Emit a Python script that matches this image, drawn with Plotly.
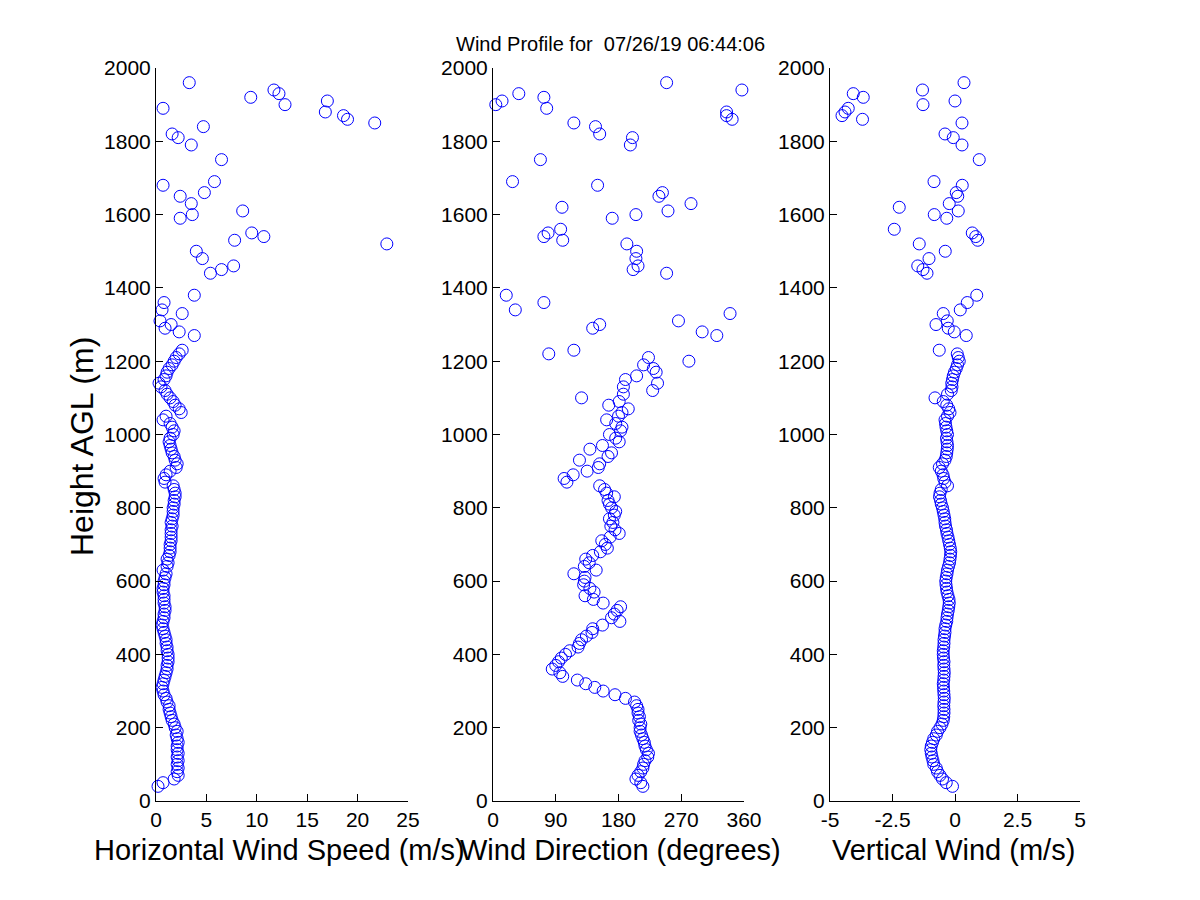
import plotly.graph_objects as go

# ---------------- data ----------------
heights_low = [
    40, 50, 60, 70, 80, 90, 100, 110, 120, 130,
    140, 150, 160, 170, 180, 190, 200, 210, 220, 230,
    240, 250, 260, 270, 280, 290, 300, 310, 320, 330,
    340, 350, 360, 370, 380, 390, 400, 410, 420, 430,
    440, 450, 460, 470, 480, 490, 500, 510, 520, 530,
    540, 550, 560, 570, 580, 590, 600, 610, 620, 630,
    640, 650, 660, 670, 680, 690, 700, 710, 720, 730,
    740, 750, 760, 770, 780, 790, 800, 810, 820, 830,
    840, 850, 860, 870, 880, 890, 900, 910, 920, 930,
    940, 950, 960, 970, 980, 990, 1000, 1010, 1020, 1030,
    1040, 1050, 1060, 1070, 1080, 1090, 1100, 1110, 1120, 1130,
    1140, 1150, 1160, 1170, 1180, 1190, 1200, 1210, 1220, 1230,
]
speed_low = [
    0.2, 0.7, 1.8, 2.2, 2.1, 2.2, 2.1, 2.2, 2.1, 2.2,
    2.1, 2.1, 2.2, 2.1, 2.0, 2.1, 1.9, 1.8, 1.6, 1.5,
    1.4, 1.3, 1.3, 1.1, 1.0, 0.8, 0.7, 0.6, 0.7, 0.8,
    0.9, 1.0, 1.1, 1.1, 1.2, 1.2, 1.2, 1.1, 1.1, 1.0,
    1.0, 0.9, 0.8, 0.7, 0.6, 0.7, 0.8, 0.8, 0.9, 0.9,
    0.8, 0.8, 0.8, 0.7, 0.7, 0.8, 0.8, 0.9, 1.0, 0.7,
    1.1, 1.2, 1.1, 1.3, 1.4, 1.4, 1.4, 1.5, 1.5, 1.5,
    1.5, 1.6, 1.5, 1.6, 1.7, 1.7, 1.7, 1.8, 1.8, 1.9,
    1.9, 1.8, 1.7, 0.9, 0.8, 1.0, 1.4, 2.0, 2.1, 1.9,
    1.8, 1.6, 1.5, 1.4, 1.3, 1.4, 1.7, 1.8, 1.6, 1.4,
    0.7, 1.0, 2.5, 2.3, 1.9, 1.7, 1.4, 1.1, 0.9, 0.5,
    0.3, 0.8, 1.0, 1.1, 1.3, 1.6, 1.8, 2.0, 2.3, 2.6,
]
direction_low = [
    215, 212, 205, 208, 212, 215, 216, 218, 222, 223,
    220, 218, 217, 215, 213, 211, 211, 212, 209, 210,
    208, 208, 206, 203, 190, 175, 158, 146, 133, 121,
    100, 96, 85, 90, 94, 98, 104, 110, 122, 124,
    127, 134, 142, 143, 157, 182, 170, 174, 178, 183,
    158, 144, 132, 145, 139, 130, 131, 132, 116, 148,
    131, 138, 133, 143, 154, 164, 161, 156, 168, 181,
    175, 169, 172, 167, 174, 176, 170, 167, 165, 174,
    163, 160, 153, 106, 102, 115, 135, 151, 153, 124,
    165, 170, 139, 157, 181, 176, 167, 183, 185, 176,
    163, 180, 185, 194, 166, 181, 127, 187, 229, 187,
    236, 190, 206, 234, 230, 216, 281, 223, 80, 116,
]
vertical_low = [
    -0.1, -0.35, -0.5, -0.6, -0.7, -0.75, -0.85, -0.88, -0.92, -0.95,
    -0.97, -0.95, -0.9, -0.85, -0.75, -0.7, -0.6, -0.52, -0.47, -0.45,
    -0.44, -0.44, -0.45, -0.44, -0.43, -0.44, -0.45, -0.46, -0.47, -0.45,
    -0.44, -0.43, -0.44, -0.45, -0.44, -0.46, -0.47, -0.47, -0.45, -0.44,
    -0.44, -0.42, -0.4, -0.4, -0.37, -0.33, -0.32, -0.3, -0.27, -0.25,
    -0.23, -0.24, -0.28, -0.32, -0.34, -0.36, -0.37, -0.35, -0.32, -0.3,
    -0.26, -0.22, -0.2, -0.18, -0.17, -0.19, -0.22, -0.25, -0.28, -0.32,
    -0.34, -0.38, -0.4, -0.41, -0.44, -0.47, -0.5, -0.55, -0.58, -0.62,
    -0.6, -0.55, -0.3, -0.4, -0.45, -0.48, -0.55, -0.63, -0.5, -0.4,
    -0.35, -0.33, -0.31, -0.3, -0.32, -0.34, -0.3, -0.33, -0.36, -0.38,
    -0.4, -0.3, -0.2, -0.25, -0.33, -0.47, -0.8, -0.3, -0.15, -0.12,
    -0.13, -0.1, -0.07, -0.02, 0.05, 0.1, 0.17, 0.13, 0.09, -0.63,
]

heights_up = [1270, 1280, 1290, 1300, 1310, 1330, 1340, 1360, 1380, 1440,
              1450, 1460, 1480, 1500, 1520, 1530, 1540, 1550, 1560, 1590,
              1600, 1610, 1620, 1630, 1650, 1660, 1680, 1690, 1750, 1790,
              1810, 1820, 1840, 1850, 1860, 1870, 1880, 1890, 1900, 1910,
              1920, 1930, 1940, 1960]
speed_up = [3.8, 2.3, 0.9, 1.5, 0.4, 2.6, 0.6, 0.8, 3.8, 5.4,
            6.5, 7.7, 4.6, 4.0, 22.9, 7.8, 10.7, 9.5, None, 2.4,
            3.6, 8.6, None, 3.5, 2.4, 4.8, 0.7, 5.8, 6.5, 3.5,
            2.2, 1.6, 4.7, 21.7, 19.0, 18.6, 16.8, 0.7, 12.8, 17.0,
            9.4, 12.2, 11.7, 3.3]
direction_up = [321, 300, 143, 153, 266, 340, 32, 73, 19, 249,
                201, 208, 205, 206, 192, 100, 73, 79, 97, 171,
                205, 251, 99, 284, 238, 243, 150, 28, 68, 197,
                200, 153, 147, 116, 343, 335, 335, 77, 4, 13,
                73, 37, 357, 249]
vertical_up = [0.45, -0.03, -0.27, -0.76, -0.31, -0.47, 0.21, 0.49, 0.87, -1.12,
               -1.28, -1.49, -1.04, -0.39, -1.43, 0.91, 0.83, 0.69, -2.43, -0.33,
               -0.83, 0.13, -2.23, -0.23, 0.11, 0.05, 0.29, -0.84, 0.97, 0.28,
               -0.07, -0.4, None, 0.28, -3.7, -4.52, -4.4, -4.27, -1.28, 0.0,
               -3.67, -4.07, -1.3, 0.36]

heights = heights_low + heights_up
speed = speed_low + speed_up
direction = direction_low + direction_up
vertical = vertical_low + vertical_up

y_ticks = [0, 200, 400, 600, 800, 1000, 1200, 1400, 1600, 1800, 2000]
speed_ticks = [0, 5, 10, 15, 20, 25]
dir_ticks = [0, 90, 180, 270, 360]
vert_ticks = [-5, -2.5, 0, 2.5, 5]
vert_tick_text = ["-5", "-2.5", "0", "2.5", "5"]

title_text = "Wind Profile for \u00a007/26/19 06:44:06"
xlabels = ["Horizontal Wind Speed (m/s)", "Wind Direction (degrees)", "Vertical Wind (m/s)"]
ylabel = "Height AGL (m)"

# ---------------- figure ----------------
W, H = 1200, 900
FONT = "Liberation Sans, Arial, Helvetica, sans-serif"
BLUE = "rgb(0,0,255)"

panels_px = [(156, 408), (493, 744), (830, 1080)]
ydom = [99 / H, 832 / H]

fig = go.Figure()
series = [speed, direction, vertical]
for i, xs in enumerate(series):
    fig.add_trace(go.Scatter(
        x=xs, y=heights, mode="markers",
        xaxis="x" if i == 0 else f"x{i+1}",
        yaxis="y" if i == 0 else f"y{i+1}",
        marker=dict(symbol="circle-open", size=12, color=BLUE, line=dict(width=1, color=BLUE)),
        cliponaxis=False, showlegend=False, hoverinfo="x+y",
    ))

common_axis = dict(showline=True, linecolor="black", linewidth=1, mirror=False,
                   ticks="inside", ticklen=7, tickwidth=1, tickcolor="black",
                   showgrid=False, zeroline=False, automargin=False,
                   tickfont=dict(family=FONT, size=21, color="black"))

xranges = [[0, 25], [0, 360], [-5, 5]]
xtickvals = [speed_ticks, dir_ticks, vert_ticks]
xticktext = [[str(v) for v in speed_ticks], [str(v) for v in dir_ticks], vert_tick_text]

layout = dict(template="none", width=W, height=H, margin=dict(l=0, r=0, t=0, b=0, pad=0),
              paper_bgcolor="white", plot_bgcolor="white", showlegend=False,
              font=dict(family=FONT, color="black"))
for i in range(3):
    xa = "xaxis" if i == 0 else f"xaxis{i+1}"
    ya = "yaxis" if i == 0 else f"yaxis{i+1}"
    x0, x1 = panels_px[i]
    layout[xa] = dict(common_axis, domain=[x0 / W, x1 / W], range=xranges[i],
                      tickmode="array", tickvals=xtickvals[i], ticktext=xticktext[i],
                      anchor="y" if i == 0 else f"y{i+1}")
    layout[ya] = dict(common_axis, domain=ydom, range=[0, 2000],
                      tickmode="array", tickvals=y_ticks, ticktext=[str(v) for v in y_ticks],
                      anchor="x" if i == 0 else f"x{i+1}")
fig.update_layout(**layout)

annotations = []
label_centers = [279, 620, 953]
for i, txt in enumerate(xlabels):
    annotations.append(dict(text=txt, x=label_centers[i] / W, y=(H - 850) / H,
                            xref="paper", yref="paper", xanchor="center", yanchor="middle",
                            showarrow=False, font=dict(family=FONT, size=29, color="black")))
annotations.append(dict(text=ylabel, x=82 / W, y=(H - 447) / H, textangle=-90,
                        xref="paper", yref="paper", xanchor="center", yanchor="middle",
                        showarrow=False, font=dict(family=FONT, size=32, color="black")))
annotations.append(dict(text=title_text, x=610 / W, y=(H - 44) / H,
                        xref="paper", yref="paper", xanchor="center", yanchor="middle",
                        showarrow=False, font=dict(family=FONT, size=20, color="black")))
fig.update_layout(annotations=annotations)

fig.write_html("out.html", config={"displayModeBar": False},
               post_script="document.body.style.margin='0';document.body.style.overflow='hidden';")
